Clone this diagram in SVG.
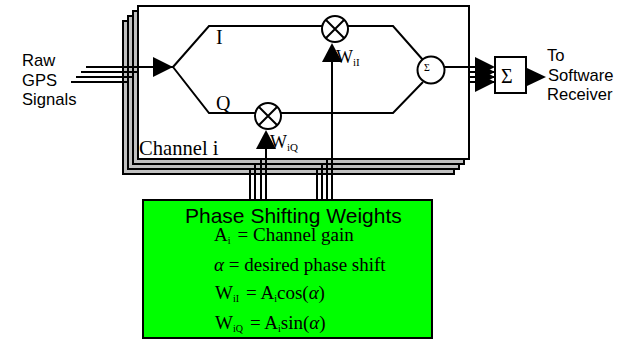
<svg xmlns="http://www.w3.org/2000/svg" width="629" height="339" viewBox="0 0 629 339">
<defs>
<style>
.ln{fill:none;stroke:#000;stroke-width:2}
.bk{fill:#c0c0c0;stroke:#000;stroke-width:2}
.ah{fill:#000;stroke:none}
.c{fill:#fff;stroke:#000;stroke-width:2}
.s{font-family:"Liberation Sans",Arial,sans-serif;font-size:16.6px;fill:#000}
.t{font-family:"Liberation Serif","Times New Roman",serif;fill:#000}
</style>
</defs>
<g id="channel-stack">
<rect class="bk" x="123" y="21" width="331" height="153"/>
<rect class="bk" x="128" y="16" width="331" height="153"/>
<rect class="bk" x="133" y="11" width="331" height="153"/>
<rect class="c" x="138" y="6" width="331" height="153"/>
</g>
<g id="connectors">
<path class="ln" d="M86 67H173M81 72H138M76 77H133M71 82H128"/>
<path class="ln" d="M173 67L209 26H393L423 60M173 67L209 113H393L423 82M445 67H475"/>
<path class="ln" d="M266 200V145M261 200V159M255 200V164M250 200V169"/>
<path class="ln" d="M332 200V58M327 200V159M322 200V164M317 200V169"/>
<path class="ln" d="M469 72H495M469 77H495M469 82H495"/>
<polygon class="ah" points="153,57 173,67 153,77"/>
<polygon class="ah" points="266,130 276,149 256,149"/>
<polygon class="ah" points="332,43 342,62 322,62"/>
<polygon class="ah" points="475,57 495,67 475,77"/>
<polygon class="ah" points="475,62 495,72 475,82"/>
<polygon class="ah" points="475,67 495,77 475,87"/>
<polygon class="ah" points="475,72 495,82 475,92"/>
<polygon class="ah" points="527,68 546,77 527,86"/>
</g>
<g id="mixer-i">
<circle class="c" cx="335" cy="29" r="13"/>
<path class="ln" d="M326 20L344 38M344 20L326 38"/>
</g>
<g id="mixer-q">
<circle class="c" cx="268" cy="116" r="13"/>
<path class="ln" d="M259 107L277 125M277 107L259 125"/>
</g>
<g id="sum-inner">
<circle class="c" cx="431" cy="70" r="13.5"/>
<text class="t" x="424" y="71" font-size="10">Σ</text>
</g>
<g id="sum-outer">
<rect class="c" x="495" y="57" width="31" height="36"/>
<text class="t" x="501" y="83" font-size="20">Σ</text>
</g>
<g id="labels">
<text class="s" x="22" y="66">Raw</text>
<text class="s" x="22" y="86">GPS</text>
<text class="s" x="22" y="105">Signals</text>
<text class="s" x="547" y="61">To</text>
<text class="s" x="548" y="81">Software</text>
<text class="s" x="547" y="100">Receiver</text>
<text class="t" x="216" y="44" font-size="20">I</text>
<text class="t" x="216" y="110" font-size="20">Q</text>
<text class="t" x="139" y="155" font-size="20.6">Channel i</text>
<text class="t" x="270" y="148" font-size="18">W<tspan font-size="11" dy="3">iQ</tspan></text>
<text class="t" x="336" y="63" font-size="18">W<tspan font-size="11" dy="3">iI</tspan></text>
</g>
<g id="weights">
<rect x="143" y="200" width="289" height="138" fill="#00ff00" stroke="#000" stroke-width="2"/>
<text x="185" y="223" font-family="Liberation Sans,Arial,sans-serif" font-size="21" fill="#000">Phase Shifting Weights</text>
<text class="t" x="214" y="241" font-size="19">A<tspan font-size="10" dy="3">i</tspan><tspan dy="-3" dx="7">= Channel gain</tspan></text>
<text class="t" x="214" y="271" font-size="19"><tspan font-style="italic">α</tspan> = desired phase shift</text>
<text class="t" x="215" y="299" font-size="19">W<tspan font-size="10" dy="3">iI</tspan><tspan dy="-3" dx="7">= A</tspan><tspan font-size="10" dy="3">i</tspan><tspan dy="-3">cos(</tspan><tspan font-style="italic">α</tspan>)</text>
<text class="t" x="215" y="329" font-size="19">W<tspan font-size="10" dy="3">iQ</tspan><tspan dy="-3" dx="7">= A</tspan><tspan font-size="10" dy="3">i</tspan><tspan dy="-3">sin(</tspan><tspan font-style="italic">α</tspan>)</text>
</g>
</svg>
